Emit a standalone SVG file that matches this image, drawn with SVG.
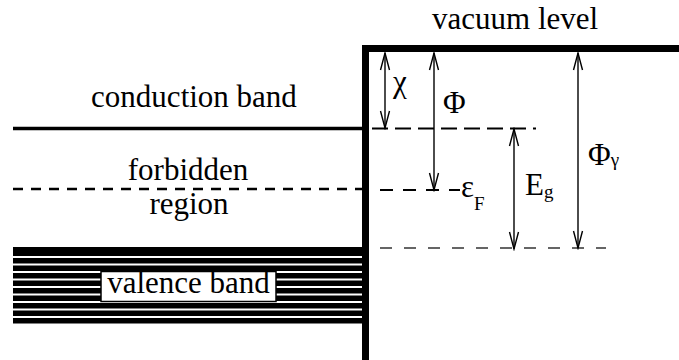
<svg xmlns="http://www.w3.org/2000/svg" width="679" height="360" viewBox="0 0 679 360">
<style>
text{font-family:'Liberation Serif','Tinos','Times New Roman','Times','Nimbus Roman','Nimbus Roman No9 L','FreeSerif','DejaVu Serif','Noto Serif',serif;fill:#000;font-size:31px}
.sub{font-size:19px}
.arrow{stroke:#000;stroke-width:1.4;fill:none;marker-start:url(#head);marker-end:url(#head)}
</style>
<defs>
<marker id="head" markerUnits="userSpaceOnUse" markerWidth="20" markerHeight="12" viewBox="0 0 20 12" refX="18" refY="6" orient="auto-start-reverse">
<path d="M1,1.5 L18,6 L1,10.5" fill="none" stroke="#000" stroke-width="1.4"/>
</marker>
</defs>
<rect width="679" height="360" fill="#fff"/>

<g id="surface">
<path d="M365.5,360 V48.5 H679" fill="none" stroke="#000" stroke-width="7"/>
</g>

<g id="vacuum-level">
<text x="432" y="29">vacuum level</text>
</g>

<g id="conduction-band">
<text x="194" y="107" text-anchor="middle">conduction band</text>
<path d="M13,128.5 H362" stroke="#000" stroke-width="3.5"/>
<path d="M372,128.5 H536" stroke="#000" stroke-width="1.8" stroke-dasharray="16 7"/>
</g>

<g id="forbidden-region">
<text x="188" y="180" text-anchor="middle">forbidden</text>
<path d="M13,189 H362" stroke="#000" stroke-width="2.5" stroke-dasharray="10 8"/>
<text x="189" y="214" text-anchor="middle">region</text>
</g>

<g id="fermi-level">
<path d="M380,190 H460" stroke="#000" stroke-width="1.8" stroke-dasharray="13 10"/>
<text x="461" y="197">ε<tspan class="sub" dy="13">F</tspan></text>
</g>

<g id="valence-max">
<path d="M380,248 H606" stroke="#333" stroke-width="1.3" stroke-dasharray="12 12"/>
</g>

<g id="valence-band">
<rect x="13" y="247" width="349" height="76.5" fill="#000"/>
<path d="M13,257 H362 M13,264.5 H362 M13,272 H362 M13,279.5 H362 M13,287 H362 M13,294.5 H362 M13,302 H362 M13,309.5 H362 M13,317 H362" stroke="#fff" stroke-width="2"/>
<rect x="101" y="271.5" width="175" height="30" fill="#fff" stroke="#000" stroke-width="1.5"/>
<text x="188.5" y="293" text-anchor="middle">valence band</text>
</g>

<g id="connectors">
<path class="arrow" d="M385,53 V128"/>
<path class="arrow" d="M434,53 V190"/>
<path class="arrow" d="M514,129 V249"/>
<path class="arrow" d="M578,53 V248"/>
</g>

<g id="labels">
<text x="393" y="92">χ</text>
<text x="443" y="113">Φ</text>
<text x="525" y="195">E<tspan class="sub" dy="3">g</tspan></text>
<text x="588" y="165">Φ<tspan class="sub" dy="1">γ</tspan></text>
</g>
</svg>
